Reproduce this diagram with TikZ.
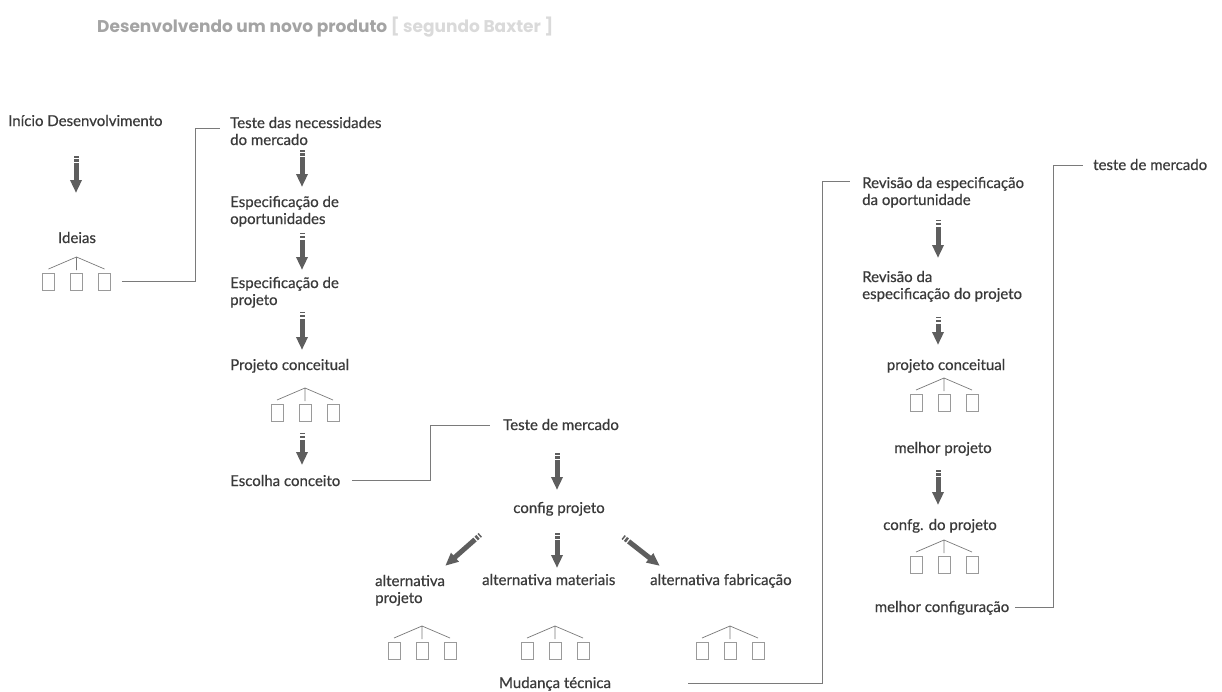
\documentclass[tikz,border=0pt]{standalone}
\usepackage{fontspec}
\setmainfont{Lato}
\newfontfamily\rotulofont{Lato}[FakeBold=0.5]
\newfontfamily\titlefont{Poppins}
\usepackage{tikz}
\usetikzlibrary{arrows.meta, calc, positioning}

\definecolor{cinzaTexto}{HTML}{3A3A3A}
\definecolor{cinzaSeta}{HTML}{5E5E5E}
\definecolor{cinzaLinha}{HTML}{7A7A7A}
\definecolor{cinzaCaixa}{HTML}{9A9A9A}
\definecolor{cinzaTitulo}{HTML}{A4A4A4}
\definecolor{cinzaClaro}{HTML}{DADADA}

% three boxes hanging from one point
\newcommand{\trio}[3]{%
  \coordinate (#1) at (#2,#3);
  \foreach \k/\dx in {1/-28, 2/0, 3/28}
    \node[caixa, anchor=north] (#1-\k) at ($(#1)+(\dx,16)$) {};
  \draw[ramo] ([yshift=4pt]#1-1.north) -- (#1) -- ([yshift=4pt]#1-3.north)
              (#1) -- ([yshift=3pt]#1-2.north);
}

\begin{document}
\begin{tikzpicture} [
        x = 1pt, y = -1pt,
        rotulo/.style = {inner sep=0pt, text=cinzaTexto, font=\rotulofont\fontsize{15}{17}\selectfont, align=left},
        seta/.style = {draw=cinzaSeta, line width=5pt, dash pattern=on 1.5pt off 1.5pt on 2.5pt off 1.5pt on 80pt off 0pt, -{Triangle[width=11pt, length=13pt]}},
        linha/.style = {draw=cinzaLinha, line width=0.9pt},
        ramo/.style = {draw=cinzaLinha, line width=0.7pt},
        caixa/.style = {draw=cinzaCaixa, line width=0.8pt, minimum width=12pt, minimum height=17pt, inner sep=0pt}
    ]

    \useasboundingbox[fill=white] (0,0) rectangle (1222,691);

    \node[anchor=base west, inner sep=0pt, font=\titlefont\bfseries\fontsize{17}{20}\selectfont, text=cinzaTitulo]
        (titulo) at (97,32) {Desenvolvendo um novo produto \textcolor{cinzaClaro}{[ segundo Baxter ]}};

    \coordinate (colA) at (76,0);
    \coordinate (colB) at (302,0);
    \coordinate (colC) at (557,0);
    \coordinate (colD) at (938,0);

    % first column
    \node[rotulo, anchor=base west] (inicio) at (8,126) {Início Desenvolvimento};
    \node[rotulo, anchor=base]      (ideias) at (77,243) {Ideias};
    \trio{id}{76.5}{257}

    % second column (base = last line)
    \node[rotulo, anchor=base west] (nec)     at (230,145) {Teste das necessidades\\do mercado};
    \node[rotulo, anchor=base west] (espop)   at (230,224) {Especificação de\\oportunidades};
    \node[rotulo, anchor=base west] (esppr)   at (230,305) {Especificação de\\projeto};
    \node[rotulo, anchor=base west] (projc)   at (230,370) {Projeto conceitual};
    \trio{pc}{305}{388}
    \node[rotulo, anchor=base west] (escolha) at (230,486) {Escolha conceito};

    % third column
    \node[rotulo, anchor=base west] (testem) at (503,430) {Teste de mercado};
    \node[rotulo, anchor=base]      (cfg)    at (559,513) {config projeto};
    \node[rotulo, anchor=base west] (altp)   at (375,603) {alternativa\\projeto};
    \node[rotulo, anchor=base west] (altm)   at (482,585) {alternativa materiais};
    \node[rotulo, anchor=base west] (altf)   at (650,585) {alternativa fabricação};
    \trio{ap}{422}{626}
    \trio{am}{555}{626}
    \trio{af}{730}{626}
    \node[rotulo, anchor=base]      (mud)    at (555,688) {Mudança técnica};

    % fourth column
    \node[rotulo, anchor=base west] (rev1)    at (862,205) {Revisão da especificação\\da oportunidade};
    \node[rotulo, anchor=base west] (rev2)    at (862,299) {Revisão da\\especificação do projeto};
    \node[rotulo, anchor=base]      (projc2)  at (946,370) {projeto conceitual};
    \trio{pr}{944}{378}
    \node[rotulo, anchor=base]      (melhor)  at (943,453) {melhor projeto};
    \node[rotulo, anchor=base]      (confg)   at (940,530) {confg. do projeto};
    \trio{cp}{944}{540}
    \node[rotulo, anchor=base]      (melhorc) at (942,612) {melhor configuração};
    \node[rotulo, anchor=base west] (testem2) at (1093,170) {teste de mercado};

    % arrows
    \draw[seta, shorten <=30pt, shorten >=50pt] (inicio.base -| colA) -- (ideias.base -| colA);
    \draw[seta, shorten <=5pt,  shorten >=37pt] (nec.south -| colB) -- (espop.base -| colB);
    \draw[seta, shorten <=6pt,  shorten >=35pt] (espop.south -| colB) -- (esppr.base -| colB);
    \draw[seta, shorten <=4pt,  shorten >=20pt] (esppr.south -| colB) -- (projc.base -| colB);
    \draw[seta, shorten <=11pt, shorten >=21pt] (pc-2.south -| colB) -- (escolha.base -| colB);
    \draw[seta, shorten <=23pt, shorten >=23pt] (testem.base -| colC) -- (cfg.base -| colC);
    \draw[seta, shorten <=20pt, shorten >=17pt] (cfg.base -| colC) -- (altm.base -| colC);
    \draw[seta, shorten <=33pt, shorten >=29pt] ([xshift=-54pt]cfg.base) -- ([xshift=48.5pt,yshift=18pt]altp.base west);
    \draw[seta, shorten <=39pt, shorten >=31pt] ([xshift=33.4pt]cfg.base) -- ([xshift=34.2pt]altf.base west);
    \draw[seta, shorten <=12pt, shorten >=41pt] (rev1.south -| colD) -- (rev2.base -| colD);
    \draw[seta, shorten <=15pt, shorten >=25pt] (rev2.south -| colD) -- (projc2.base -| colD);
    \draw[seta, shorten <=17pt, shorten >=25pt] (melhor.base -| colD) -- (confg.base -| colD);

    % links between columns
    \draw[linha] ([xshift=11pt]id-3.east) -| ([xshift=-35pt,yshift=17pt]nec.base west) -- ([xshift=-10pt,yshift=17pt]nec.base west);
    \draw[linha] ([xshift=12pt,yshift=6pt]escolha.base east) -| ([xshift=-73pt,yshift=5pt]testem.base west)
                 -- ([xshift=-13pt,yshift=5pt]testem.base west);
    \draw[linha] ([xshift=133pt,yshift=5pt]mud.base) -| ([xshift=-40pt,yshift=23.5pt]rev1.base west)
                 -- ([xshift=-12pt,yshift=23.5pt]rev1.base west);
    \draw[linha] ([xshift=6pt,yshift=5pt]melhorc.base east) -| ([xshift=-40pt,yshift=5pt]testem2.base west)
                 -- ([xshift=-10pt,yshift=5pt]testem2.base west);

\end{tikzpicture}
\end{document}
